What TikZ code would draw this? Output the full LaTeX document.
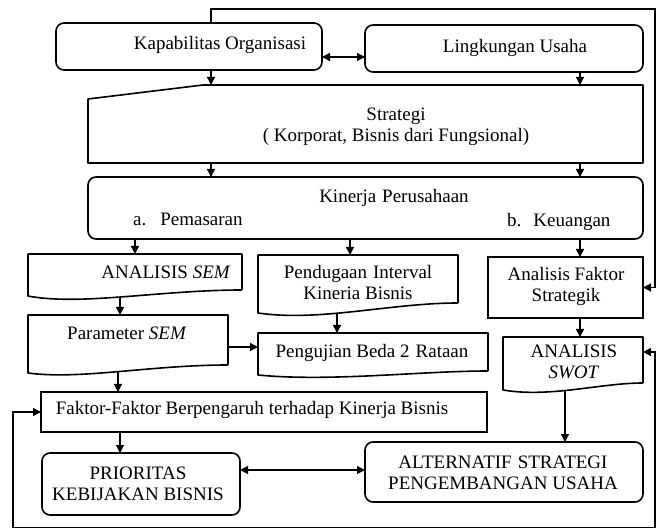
\documentclass[tikz,border=0pt]{standalone}
\usepackage{fontspec}
\setmainfont{Liberation Serif}
\usetikzlibrary{arrows.meta,calc}
\begin{document}
\begin{tikzpicture}[x=1pt,y=-1pt,
  ol/.style={draw, line width=1.6pt, line join=round},
  bx/.style={inner sep=0pt, outer sep=0pt},
  rbx/.style={bx, draw, line width=1.6pt, rounded corners=8pt},
  rect/.style={bx, draw, line width=1.6pt},
  ghost/.style={bx, draw=none},
  txt/.style={inner sep=0pt, font=\fontsize{19}{21}\selectfont, align=center},
  arr/.style={line width=1.3pt, -{Triangle[length=8pt,width=8pt]}},
  darr/.style={line width=1.3pt, {Triangle[length=8pt,width=8pt]}-{Triangle[length=8pt,width=8pt]}}]
\useasboundingbox (0,0) rectangle (659,529);
\fill[white] (0,0) rectangle (659,529);

% column / row helper coordinates
\coordinate (c211) at (211,0);
\coordinate (c580) at (580,0);
\coordinate (c135) at (135,0);
\coordinate (c350) at (350,0);
\coordinate (c120) at (120,0);
\coordinate (r57) at (0,57);
\coordinate (r347) at (0,347);
\coordinate (r470) at (0,470);
\coordinate (r352) at (0,352);
\coordinate (top) at (655,9);
\coordinate (lb) at (13,527.5);
\coordinate (rb) at (655,527.5);

% boxes
\node[rbx, minimum width=266pt, minimum height=47pt] (kap) at (189,46.5) {};
\node[rbx, minimum width=278pt, minimum height=47pt] (ling) at (504,48.5) {};
\node[ghost, minimum width=555pt, minimum height=78pt] (strat) at (365.5,124) {};
\draw[ol] (88,163) -- (88,99) -- (203,85) -- (643,85) -- (643,163) -- cycle;
\node[rbx, minimum width=555pt, minimum height=62pt] (kin) at (365.5,208) {};

\node[ghost, minimum width=214pt, minimum height=36pt] (asem) at (135,272) {};
\draw[ol] (242,290) -- (242,254) -- (28,254) -- (28,296)
  .. controls (80,306) and (160,290) .. (242,290);
\node[ghost, minimum width=200pt, minimum height=48pt] (pend) at (358,279) {};
\draw[ol] (458,303) -- (458,255) -- (258,255) -- (258,313)
  .. controls (320,322) and (390,303) .. (458,303);
\node[rect, minimum width=155pt, minimum height=61pt] (afs) at (565.5,287.5) {};

\node[ghost, minimum width=200pt, minimum height=50pt] (par) at (128,340) {};
\draw[ol] (228,365) -- (228,315) -- (28,315) -- (28,373)
  .. controls (80,380) and (150,365) .. (228,365);
\node[ghost, minimum width=230pt, minimum height=38pt] (peng) at (373,352) {};
\draw[ol] (488,371) -- (488,333) -- (258,333) -- (258,375)
  .. controls (330,382) and (420,371) .. (488,371);
\node[ghost, minimum width=140pt, minimum height=46pt] (swot) at (573,360) {};
\draw[ol] (643,383) -- (643,337) -- (503,337) -- (503,390)
  .. controls (550,398) and (600,383) .. (643,383);

\node[rect, minimum width=446pt, minimum height=40pt] (fak) at (264,412) {};
\node[rbx, minimum width=198pt, minimum height=62pt] (prio) at (141,484) {};
\node[rbx, minimum width=278pt, minimum height=60pt] (alt) at (504,472) {};

% wave points
\coordinate (asemb) at (120,297);
\coordinate (pendb) at (337,313);
\coordinate (parb) at (118,372);
\coordinate (swotb) at (565,390.5);

% texts
\node[txt] (tkap) at (220,45) {Kapabilitas Organisasi};
\node[txt] (tling) at (515,48) {Lingkungan Usaha};
\node[txt] (tstrat) at (396,126.5) {Strategi\\( Korporat, Bisnis dari Fungsional)};
\node[txt] (tkin) at (394,198) {Kinerja\hspace{6pt}Perusahaan};
\node[txt, anchor=west] (tkina) at (133,219) {a.\hspace{14pt}Pemasaran};
\node[txt, anchor=west] (tkinb) at (507,222) {b.\hspace{12pt}Keuangan};
\node[txt] (tasem) at (166,272) {ANALISIS \textit{SEM}};
\node[txt] (tpend) at (358,282.5) {Pendugaan\hspace{6pt}Interval\\Kineria Bisnis};
\node[txt] (tafs) at (566,286) {Analisis Faktor\\Strategik};
\node[txt] (tpar) at (127,333) {Parameter \textit{SEM}};
\node[txt] (tpeng) at (372,353) {Pengujian Beda 2\hspace{6pt}Rataan};
\node[txt] (tswot) at (574,362) {ANALISIS\\\textit{SWOT}};
\node[txt] (tfak) at (252,410) {Faktor-Faktor Berpengaruh\hspace{5pt}terhadap Kinerja Bisnis};
\node[txt] (tprio) at (138,484) {PRIORITAS\\KEBIJAKAN BISNIS};
\node[txt] (talt) at (503,473) {ALTERNATIF\hspace{6pt}STRATEGI\\PENGEMBANGAN USAHA};

% connectors
\draw[darr] (kap.east |- r57) -- (ling.west |- r57);
\draw[arr] (kap.north -| c211) |- (top) |- (afs.east);
\draw[arr] (kap.south -| c211) -- (strat.north -| c211);
\draw[arr] (ling.south -| c580) -- (strat.north -| c580);
\draw[arr] (strat.south -| c211) -- (kin.north -| c211);
\draw[arr] (strat.south -| c580) -- (kin.north -| c580);
\draw[arr] (kin.south -| c135) -- (asem.north -| c135);
\draw[arr] (kin.south -| c350) -- (pend.north -| c350);
\draw[arr] (kin.south -| c580) -- (afs.north -| c580);
\draw[arr] (asemb) -- (par.north -| asemb);
\draw[arr] (pendb) -- (peng.north -| pendb);
\draw[arr] (par.east |- r347) -- (peng.west |- r347);
\draw[arr] (afs.south -| c580) -- (swot.north -| c580);
\draw[arr] (parb) -- (fak.north -| parb);
\draw[arr] (fak.south -| c120) -- (prio.north -| c120);
\draw[darr] (prio.east |- r470) -- (alt.west |- r470);
\draw[arr] (swotb) -- (alt.north -| swotb);
\draw[darr] (fak.west) -| (lb) -- (rb) |- (swot.east |- r352);
\end{tikzpicture}
\end{document}
